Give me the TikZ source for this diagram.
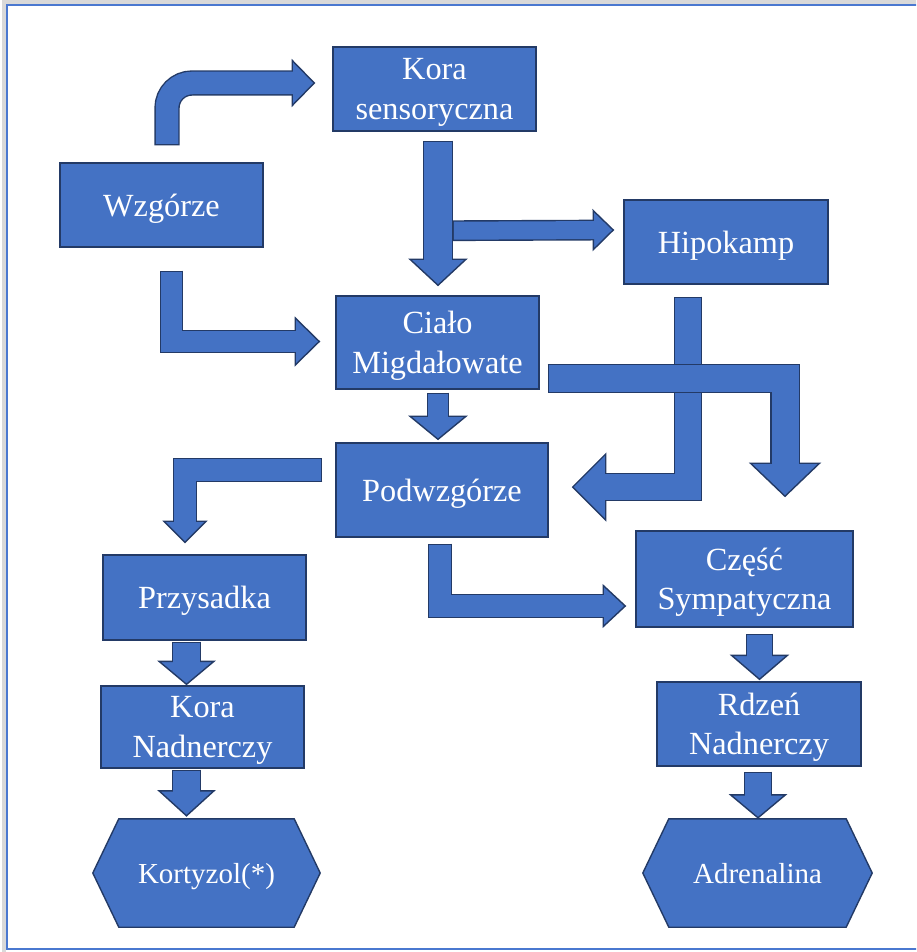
\documentclass[tikz,border=0pt]{standalone}
\usepackage{fontspec}
\setmainfont{Liberation Serif}
\usetikzlibrary{calc,backgrounds,decorations.markings}

\definecolor{boxblue}{HTML}{4472C4}
\definecolor{boxline}{HTML}{233A66}
\definecolor{frameblue}{HTML}{4A78D0}

\def\olw{1.4pt}
%% Blockpfeil: Schaftbreite, halbe Kopfbreite, Kopflaenge, Pfad
\newcommand{\blockarrow}[4]{%
	\draw[arrowline, line width=#1pt+2*\olw, shorten >=#3pt] #4;
	\path[postaction={decorate}, decoration={markings, mark=at position 0.9999 with {\filldraw[arrowhead] (0,0) -- (-#3,#2) -- (-#3,-#2) -- cycle;}}] #4;
	\draw[arrowfill, line width=#1pt, shorten <=\olw, shorten >=#3pt-3pt] #4;
}

\tikzset{
	box/.style={draw=boxline, line width=\olw, fill=boxblue, text=white, align=center, inner sep=0pt, text depth=0pt, font=\fontsize{32.3}{39.5}\selectfont},
	hexbox/.style={text=white, align=center, inner sep=0pt, text depth=0pt, font=\fontsize{29}{35}\selectfont},
	hexshape/.style={draw=boxline, line width=\olw, fill=boxblue, line join=miter},
	arrowline/.style={draw=boxline, line join=miter},
	arrowfill/.style={draw=boxblue, line join=miter},
	arrowhead/.style={draw=boxline, fill=boxblue, line width=\olw, line join=miter, sharp corners},
	frame/.style={draw=frameblue, line width=2.5pt},
}

\begin{document}
\begin{tikzpicture}[x=1pt, y=-1pt]
	\useasboundingbox (0,0) rectangle (916,952);
	\clip (0,0) rectangle (916,952);

	%% Rahmen
	\draw[gray!30, line width=4pt] (930,2.5) -- (3.5,2.5) -- (3.5,960);
	\draw[frame] (930,5) -- (7,5) -- (7,949) -- (930,949);

	%% Kaesten
	\node[box, minimum width=203pt, minimum height=84pt] (wzg) at (161.5,205) {Wzgórze};
	\node[box, minimum width=203pt, minimum height=84pt] (kora) at (434.5,89) {Kora\\sensoryczna};
	\node[box, minimum width=204pt, minimum height=84pt] (hipo) at (726,242) {Hipokamp};
	\node[box, minimum width=203pt, minimum height=93pt] (cialo) at (437.5,342.5) {Ciało\\Migdałowate};
	\node[box, minimum width=212pt, minimum height=94pt] (podw) at (442,490) {Podwzgórze};
	\node[box, minimum width=203pt, minimum height=85pt] (przy) at (204.5,597.5) {Przysadka};
	\node[box, minimum width=203pt, minimum height=82pt] (knad) at (202.5,727) {Kora\\Nadnerczy};
	\node[box, minimum width=217pt, minimum height=96pt] (czesc) at (744.5,579) {Część\\Sympatyczna};
	\node[box, minimum width=204pt, minimum height=84pt] (rdzen) at (759,724) {Rdzeń\\Nadnerczy};

	%% Sechsecke
	\node[hexbox, minimum width=227pt, minimum height=108pt] (kort) at (206.5,873) {Kortyzol(*)};
	\node[hexbox, minimum width=229pt, minimum height=108pt] (adr) at (757.5,873) {Adrenalina};
	\begin{scope}[on background layer]
		\foreach \h in {kort,adr}
			\filldraw[hexshape] ($(\h.north west)+(26,0)$) -- ($(\h.north east)+(-26,0)$) -- (\h.east)
				-- ($(\h.south east)+(-26,0)$) -- ($(\h.south west)+(26,0)$) -- (\h.west) -- cycle;
	\end{scope}

	%%%%%%%%%%%%%%%%

	%% Pfeile
	\blockarrow{22.5}{22.5}{22}{($(wzg.north)+(5.5,-17)$) [rounded corners=25pt] |- ($(kora.west)+(-18,-6)$)}
	\blockarrow{28}{28}{26}{($(kora.south)+(3.5,9)$) -- ($(cialo.north)+(0.5,-10)$)}
	\blockarrow{18}{19.5}{20}{($(kora.south)+(18,99)$) -- ($(hipo.west)+(-10,-12)$)}
	\blockarrow{21}{23.5}{24}{($(wzg.south)+(10,23)$) |- ($(cialo.west)+(-16,-1)$)}
	\blockarrow{20}{28}{23}{($(cialo.south)+(0.5,3)$) -- ($(podw.north)+(-4,-3)$)}
	\blockarrow{26}{33}{33}{($(hipo.south)+(-38,12)$) |- ($(podw.east)+(24,-3)$)}
	\blockarrow{27}{34.5}{33}{($(cialo.east)+(8,36)$) -| ($(czesc.north)+(40.5,-34)$)}
	\blockarrow{22}{21}{21}{($(podw.west)+(-13,-20)$) -| ($(przy.north)+(-19.5,-12)$)}
	\blockarrow{22}{20.5}{22}{($(podw.south)+(-2,6)$) |- ($(czesc.west)+(-10,27)$)}
	\blockarrow{27}{27.5}{23}{($(przy.south)+(-18,1)$) -- ($(knad.north)+(-16,-1)$)}
	\blockarrow{27}{27.5}{25}{($(knad.south)+(-16,1)$) -- ($(kort.north)+(-20,-3)$)}
	\blockarrow{25}{28}{24}{($(czesc.south)+(15,6)$) -- ($(rdzen.north)+(0.5,-2)$)}
	\blockarrow{26}{27.5}{23}{($(rdzen.south)+(-1,5)$) -- ($(adr.north)+(0.5,-1)$)}
\end{tikzpicture}
\end{document}
